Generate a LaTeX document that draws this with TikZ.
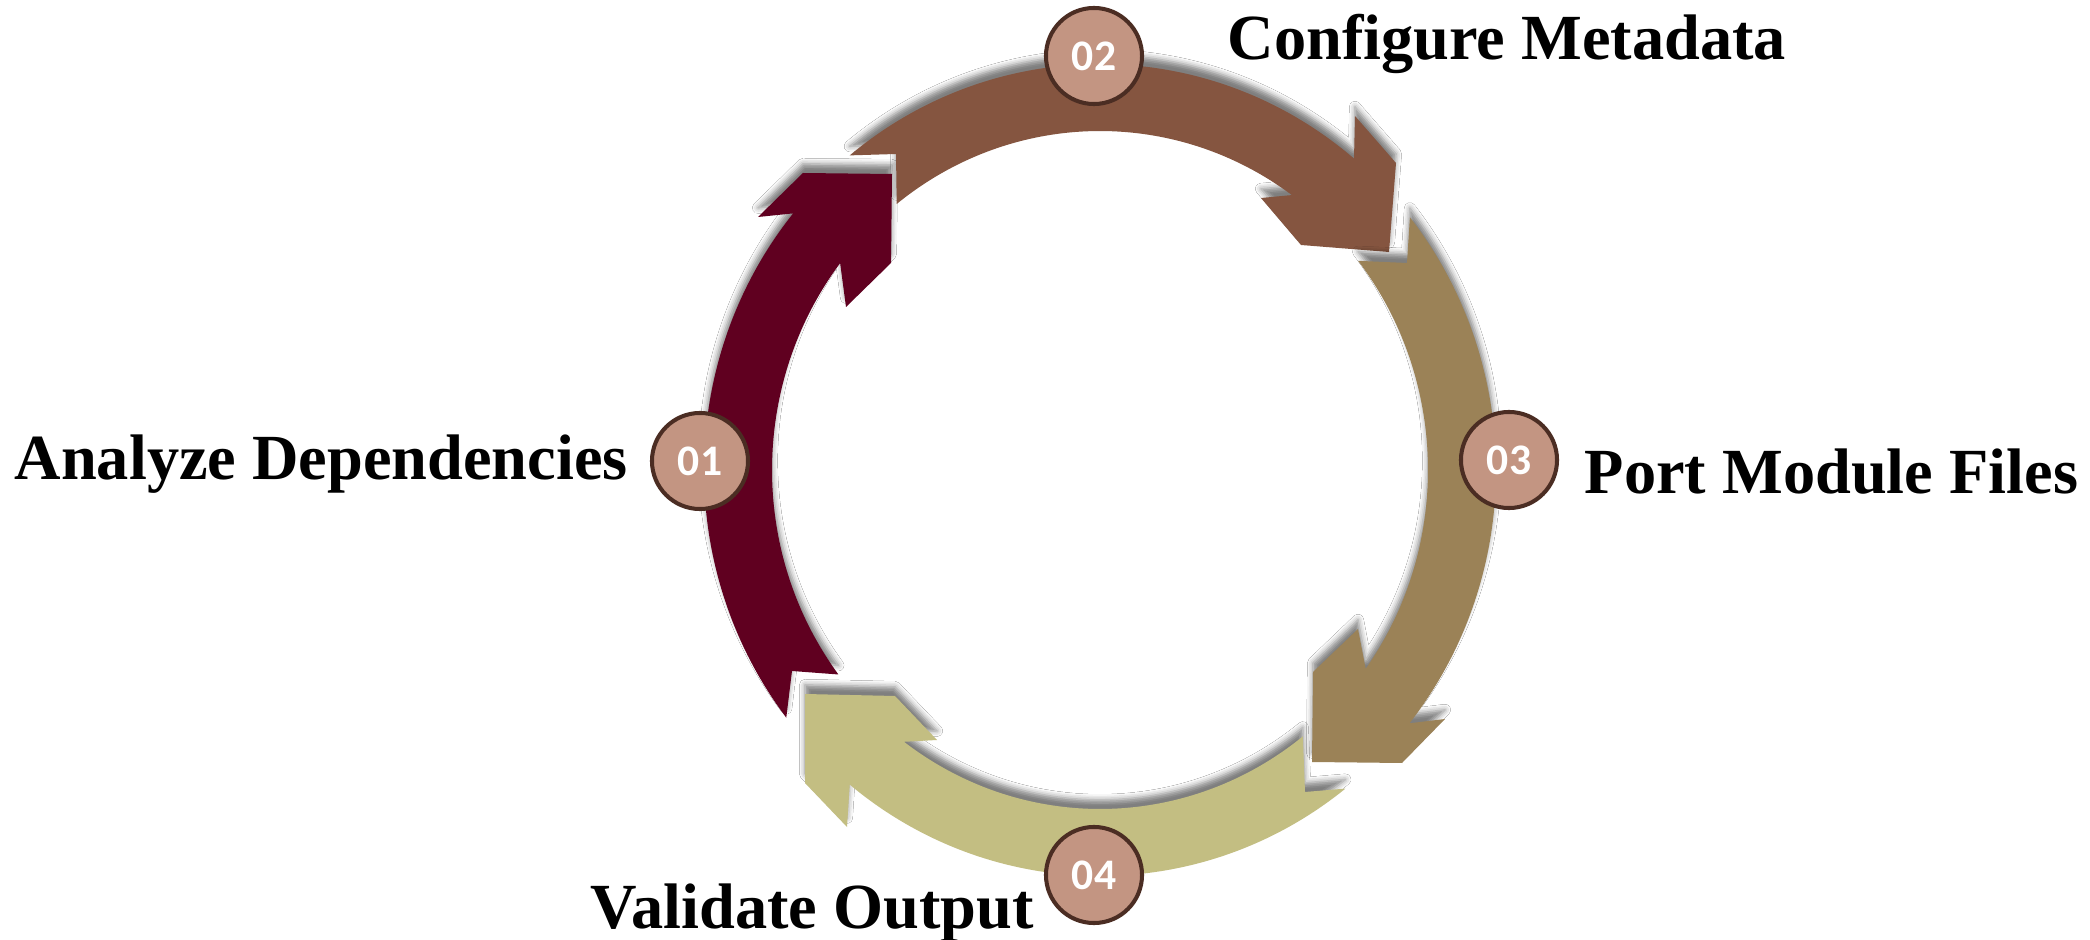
\documentclass[tikz,border=0pt]{standalone}
\usepackage{fontspec}
\setmainfont{Liberation Serif}
\newfontfamily\numfont{Carlito}
\usetikzlibrary{calc,shadows.blur}

\definecolor{arcmaroon}{HTML}{600020}
\definecolor{arcbrown}{HTML}{855540}
\definecolor{arctan}{HTML}{9B8257}
\definecolor{arcolive}{HTML}{C3BE82}
\definecolor{ringfill}{HTML}{C39582}
\definecolor{ringedge}{HTML}{4B2D23}

% ring radii (outer / inner), in pixel units
\def\rxo{396}\def\ryo{406}
\def\rxi{328}\def\ryi{339}

\begin{document}
\begin{tikzpicture}[x=0.01cm,y=-0.01cm,
  ringarrow/.style={blur shadow={shadow xshift=0pt,shadow yshift=2.6pt,shadow blur radius=1.6pt,shadow opacity=50}},
  stepnum/.style={circle,draw=ringedge,fill=ringfill,line width=1.15pt,minimum size=0.96cm,inner sep=0pt,text=white,font=\numfont\bfseries\fontsize{12.4}{13}\selectfont},
  steplabel/.style={anchor=base west,inner sep=0pt,font=\bfseries\fontsize{18.3}{20}\selectfont}]

\fill[white] (0,0) rectangle (2090,940);
\useasboundingbox (0,0) rectangle (2090,940);
\coordinate (C) at (1100,470);

% 01: left arc, head at top-left
\fill[arcmaroon,ringarrow]
  ($(C)+(142.4:{\rxo} and {\ryo})$) -- (792,671) -- ($(C)+(142.9:{\rxi} and {\ryi})$)
  arc[start angle=142.9,end angle=217.6,x radius=\rxi,y radius=\ryi]
  -- (846,307) -- (891,263) -- (892,174) -- (803,173) -- (758,217)
  -- ($(C)+(219.2:{\rxo} and {\ryo})$)
  arc[start angle=219.2,end angle=142.4,x radius=\rxo,y radius=\ryo] -- cycle;

% 02: top arc, head at top-right
\fill[arcbrown,ringarrow]
  ($(C)+(230.8:{\rxo} and {\ryo})$) -- (896,154) -- ($(C)+(231.7:{\rxi} and {\ryi})$)
  arc[start angle=231.7,end angle=305.8,x radius=\rxi,y radius=\ryi]
  -- (1261,198) -- (1301,245) -- (1389,252) -- (1396,163) -- (1355,116)
  -- ($(C)+(309.9:{\rxo} and {\ryo})$)
  arc[start angle=309.9,end angle=230.8,x radius=\rxo,y radius=\ryo] -- cycle;

% 03: right arc, head at bottom-right
\fill[arctan,ringarrow]
  ($(C)+(321.5:{\rxo} and {\ryo})$) -- (1407,263) -- ($(C)+(321.9:{\rxi} and {\ryi})$)
  arc[start angle=321.9,end angle=395.9,x radius=\rxi,y radius=\ryi]
  -- (1358,629) -- (1313,672) -- (1312,762) -- (1402,763) -- (1445,719)
  -- ($(C)+(398.6:{\rxo} and {\ryo})$)
  arc[start angle=398.6,end angle=321.5,x radius=\rxo,y radius=\ryo] -- cycle;

% 04: bottom arc, head at bottom-left
\fill[arcolive,ringarrow]
  ($(C)+(51.8:{\rxi} and {\ryi})$) -- (1305,792) -- ($(C)+(51.7:{\rxo} and {\ryo})$)
  arc[start angle=51.7,end angle=129.2,x radius=\rxo,y radius=\ryo]
  -- (847,827) -- (805,783) -- (805,694) -- (895,696) -- (937,740)
  -- ($(C)+(126.7:{\rxi} and {\ryi})$)
  arc[start angle=126.7,end angle=51.8,x radius=\rxi,y radius=\ryi] -- cycle;

% step markers
\node[stepnum] (s1) at (700,461) {01};
\node[stepnum] (s2) at (1094,56) {02};
\node[stepnum] (s3) at (1509,460) {03};
\node[stepnum] (s4) at (1094,875) {04};

% step titles
\node[steplabel] (t1) at (14,480) {Analyze Dependencies};
\node[steplabel] (t2) at (1227,60) {Configure Metadata};
\node[steplabel] (t3) at (1584,494) {Port Module Files};
\node[steplabel] (t4) at (590,928) {Validate Output};
\end{tikzpicture}
\end{document}
